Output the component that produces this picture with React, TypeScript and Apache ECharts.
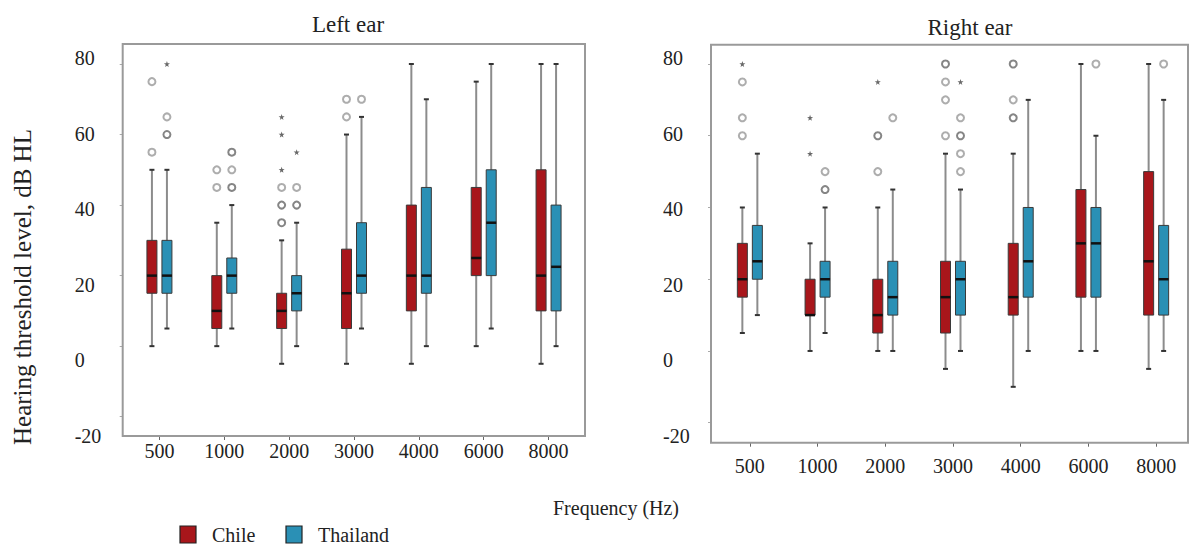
import React, { useEffect, useRef } from 'react';
import * as echarts from 'echarts';

// ---------- data ----------
const frequencies = ['500', '1000', '2000', '3000', '4000', '6000', '8000'];
const yMin = -20;
const yMax = 80;
const yInterval = 20;
const legendNames = ['Chile', 'Thailand'];

// Left ear — Chile
const leftChileLow = [0, 0, -5, -5, -5, 0, -5];
const leftChileQ1 = [15, 5, 5, 5, 10, 20, 10];
const leftChileMed = [20, 10, 10, 15, 20, 25, 20];
const leftChileQ3 = [30, 20, 15, 27.5, 40, 45, 50];
const leftChileHigh = [50, 35, 30, 60, 80, 75, 80];
// Left ear — Thailand
const leftThaiLow = [5, 5, 0, 5, 0, 5, 0];
const leftThaiQ1 = [15, 15, 10, 15, 15, 20, 10];
const leftThaiMed = [20, 20, 15, 20, 20, 35, 22.5];
const leftThaiQ3 = [30, 25, 20, 35, 45, 50, 40];
const leftThaiHigh = [50, 40, 35, 65, 70, 80, 80];
// Right ear — Chile
const rightChileLow = [5, 0, 0, -5, -10, 0, -5];
const rightChileQ1 = [15, 10, 5, 5, 10, 15, 10];
const rightChileMed = [20, 10, 10, 15, 15, 30, 25];
const rightChileQ3 = [30, 20, 20, 25, 30, 45, 50];
const rightChileHigh = [40, 30, 40, 55, 55, 80, 80];
// Right ear — Thailand
const rightThaiLow = [10, 5, 0, 0, 0, 0, 0];
const rightThaiQ1 = [20, 15, 10, 10, 15, 15, 10];
const rightThaiMed = [25, 20, 15, 20, 25, 30, 20];
const rightThaiQ3 = [35, 25, 25, 25, 40, 40, 35];
const rightThaiHigh = [55, 40, 45, 45, 70, 60, 70];

// outliers: [frequency index, value, kind] — 'o' circle, 'O' repeated circle, '*' extreme
const leftChileOutliers: [number, number, string][] = [
  [0, 75, 'o'], [0, 55, 'o'],
  [1, 50, 'o'], [1, 45, 'o'],
  [2, 65, '*'], [2, 60, '*'], [2, 50, '*'], [2, 45, 'o'], [2, 40, 'O'], [2, 35, 'O'],
  [3, 70, 'o'], [3, 65, 'o'],
];
const leftThaiOutliers: [number, number, string][] = [
  [0, 80, '*'], [0, 65, 'o'], [0, 60, 'O'],
  [1, 55, 'O'], [1, 50, 'o'], [1, 45, 'O'],
  [2, 55, '*'], [2, 45, 'o'], [2, 40, 'O'],
  [3, 70, 'o'],
];
const rightChileOutliers: [number, number, string][] = [
  [0, 80, '*'], [0, 75, 'o'], [0, 65, 'o'], [0, 60, 'o'],
  [1, 65, '*'], [1, 55, '*'],
  [2, 75, '*'], [2, 60, 'O'], [2, 50, 'o'],
  [3, 80, 'O'], [3, 75, 'o'], [3, 70, 'o'], [3, 60, 'o'],
  [4, 80, 'O'], [4, 70, 'o'], [4, 65, 'O'],
];
const rightThaiOutliers: [number, number, string][] = [
  [1, 50, 'o'], [1, 45, 'O'],
  [2, 65, 'o'],
  [3, 75, '*'], [3, 65, 'o'], [3, 60, 'O'], [3, 55, 'o'], [3, 50, 'o'],
  [5, 80, 'o'],
  [6, 80, 'o'],
];

// ---------- styles ----------
const RED = '#A8161B';
const BLUE = '#2A90B5';
const FONT = 'Liberation Serif';
const TEXT = '#222';
const BOX_W = 10;
const OFF = 7.5;
const FRAME = '#9a9a9a';

const rows = (lo: number[], q1: number[], md: number[], q3: number[], hi: number[]) =>
  frequencies.map((_, i) => [i, lo[i], q1[i], md[i], q3[i], hi[i]]);

function boxRenderer(offset: number, fill: string) {
  return (_params: any, api: any) => {
    const cat = api.value(0);
    const cx = api.coord([cat, 0])[0] + offset;
    const yOf = (v: number) => api.coord([cat, v])[1];
    const yLow = yOf(api.value(1));
    const yQ1 = yOf(api.value(2));
    const yMed = yOf(api.value(3));
    const yQ3 = yOf(api.value(4));
    const yHigh = yOf(api.value(5));
    const hw = BOX_W / 2;
    return {
      type: 'group',
      children: [
        { type: 'line', shape: { x1: cx, y1: yLow, x2: cx, y2: yHigh }, style: { stroke: '#8c8c8c', lineWidth: 2 } },
        { type: 'line', shape: { x1: cx - 2.5, y1: yLow, x2: cx + 2.5, y2: yLow }, style: { stroke: '#333', lineWidth: 2 } },
        { type: 'line', shape: { x1: cx - 2.5, y1: yHigh, x2: cx + 2.5, y2: yHigh }, style: { stroke: '#333', lineWidth: 2 } },
        { type: 'rect', shape: { x: cx - hw, y: yQ3, width: BOX_W, height: yQ1 - yQ3 }, style: { fill, stroke: '#3a3a3a', lineWidth: 1 } },
        { type: 'line', shape: { x1: cx - hw, y1: yMed, x2: cx + hw, y2: yMed }, style: { stroke: '#111', lineWidth: 2.5 } },
      ],
    };
  };
}

const STAR = 'path://M0,-5L1.2,-1.6L4.8,-1.5L1.9,0.6L2.9,4L0,2L-2.9,4L-1.9,0.6L-4.8,-1.5L-1.2,-1.6Z';

function outlierData(list: [number, number, string][]) {
  return list.map(([i, v, k]) => {
    if (k === '*') {
      return { value: [i, v], symbol: STAR, symbolSize: 6, itemStyle: { color: '#444', borderWidth: 0 } };
    }
    return {
      value: [i, v],
      symbol: 'emptyCircle',
      symbolSize: 7,
      itemStyle: { color: k === 'O' ? '#666' : '#999', borderWidth: k === 'O' ? 2 : 1.4 },
    };
  });
}

function boxSeries(name: string, grid: number, offset: number, fill: string, data: number[][]) {
  return {
    type: 'custom',
    name,
    xAxisIndex: grid,
    yAxisIndex: grid,
    renderItem: boxRenderer(offset, fill),
    encode: { x: 0, y: [1, 2, 3, 4, 5] },
    itemStyle: { color: fill },
    data,
    z: 3,
  };
}

function outlierSeries(name: string, grid: number, offset: number, list: [number, number, string][]) {
  return {
    type: 'scatter',
    name,
    xAxisIndex: grid,
    yAxisIndex: grid,
    symbolOffset: [offset, 0],
    data: outlierData(list),
    z: 4,
  };
}

// panel geometry (frame rect, data grid, label grid)
const panels = [
  { frame: { x: 122.7, y: 44, w: 462.3, h: 392 }, gridLeft: 127, gridWidth: 454, dataTop: 64, dataH: 352.7, labelMargin: 5 },
  { frame: { x: 711, y: 44.7, w: 477, h: 398 }, gridLeft: 716, gridWidth: 475, dataTop: 64, dataH: 358.7, labelMargin: 13 },
];

function buildOption() {
  const grid: any[] = [];
  const xAxis: any[] = [];
  const yAxis: any[] = [];
  panels.forEach((p) => {
    // data grid
    grid.push({ left: p.gridLeft, top: p.dataTop, width: p.gridWidth, height: p.dataH });
    xAxis.push({
      type: 'category',
      gridIndex: grid.length - 1,
      data: frequencies,
      offset: p.frame.y + p.frame.h - (p.dataTop + p.dataH),
      axisLine: { show: false, onZero: false },
      axisTick: { show: true, alignWithLabel: true, length: 4, lineStyle: { color: '#666', width: 1 } },
      axisLabel: { color: TEXT, fontFamily: FONT, fontSize: 20, margin: p.labelMargin },
      splitLine: { show: false },
    });
    yAxis.push({
      type: 'value',
      gridIndex: grid.length - 1,
      min: yMin,
      max: yMax,
      interval: yInterval,
      offset: p.gridLeft - p.frame.x,
      axisLine: { show: false, onZero: false },
      axisTick: { show: true, length: 3, lineStyle: { color: '#aaa' } },
      axisLabel: { show: false },
      splitLine: { show: false },
    });
    // label grid
    grid.push({ left: p.frame.x, top: 58, width: p.frame.w, height: 378 });
    xAxis.push({ type: 'value', gridIndex: grid.length - 1, show: false });
    yAxis.push({
      type: 'value',
      gridIndex: grid.length - 1,
      min: yMin,
      max: yMax,
      interval: yInterval,
      axisLine: { show: false, onZero: false },
      axisTick: { show: false },
      splitLine: { show: false },
      axisLabel: { color: TEXT, fontFamily: FONT, fontSize: 20, align: 'left', margin: 48 },
    });
  });

  const frames = panels.map((p) => ({
    type: 'rect',
    shape: { x: p.frame.x, y: p.frame.y, width: p.frame.w, height: p.frame.h },
    style: { fill: 'none', stroke: FRAME, lineWidth: 2 },
    z: 1,
  }));

  const legendItems = legendNames.flatMap((name, i) => {
    const x = i === 0 ? 180 : 286;
    return [
      {
        type: 'rect',
        shape: { x, y: 526, width: 16, height: 17 },
        style: { fill: i === 0 ? RED : BLUE, stroke: '#222', lineWidth: 1.2 },
      },
      {
        type: 'text',
        x: x + 32,
        y: 535,
        style: { text: name, fontFamily: FONT, fontSize: 20, fill: TEXT, align: 'left', verticalAlign: 'middle' },
      },
    ];
  });

  return {
    animation: false,
    backgroundColor: '#fff',
    title: [
      { text: 'Left ear', left: 343, top: 8, textAlign: 'center', textStyle: { fontFamily: FONT, fontSize: 23, fontWeight: 'normal', color: TEXT } },
      { text: 'Right ear', left: 965, top: 11, textAlign: 'center', textStyle: { fontFamily: FONT, fontSize: 23, fontWeight: 'normal', color: TEXT } },
    ],
    grid,
    xAxis,
    yAxis,
    graphic: [
      ...frames,
      ...legendItems,
      {
        type: 'text',
        x: 22,
        y: 287,
        rotation: Math.PI / 2,
        style: { text: 'Hearing threshold level, dB HL', fontFamily: FONT, fontSize: 25, fill: TEXT, align: 'center', verticalAlign: 'middle' },
      },
      {
        type: 'text',
        x: 616,
        y: 508,
        style: { text: 'Frequency (Hz)', fontFamily: FONT, fontSize: 20, fill: TEXT, align: 'center', verticalAlign: 'middle' },
      },
    ],
    series: [
      boxSeries('Chile', 0, -OFF, RED, rows(leftChileLow, leftChileQ1, leftChileMed, leftChileQ3, leftChileHigh)),
      boxSeries('Thailand', 0, OFF, BLUE, rows(leftThaiLow, leftThaiQ1, leftThaiMed, leftThaiQ3, leftThaiHigh)),
      boxSeries('Chile', 2, -OFF, RED, rows(rightChileLow, rightChileQ1, rightChileMed, rightChileQ3, rightChileHigh)),
      boxSeries('Thailand', 2, OFF, BLUE, rows(rightThaiLow, rightThaiQ1, rightThaiMed, rightThaiQ3, rightThaiHigh)),
      outlierSeries('Chile outliers (left)', 0, -OFF, leftChileOutliers),
      outlierSeries('Thailand outliers (left)', 0, OFF, leftThaiOutliers),
      outlierSeries('Chile outliers (right)', 2, -OFF, rightChileOutliers),
      outlierSeries('Thailand outliers (right)', 2, OFF, rightThaiOutliers),
    ],
  };
}

export default function App() {
  const ref = useRef<HTMLDivElement>(null);
  useEffect(() => {
    if (!ref.current) return;
    const chart = echarts.init(ref.current, undefined, { renderer: 'svg' });
    chart.setOption(buildOption() as any);
    return () => chart.dispose();
  }, []);
  return <div ref={ref} style={{ position: 'fixed', left: 0, top: 0, width: 1190, height: 548 }} />;
}
